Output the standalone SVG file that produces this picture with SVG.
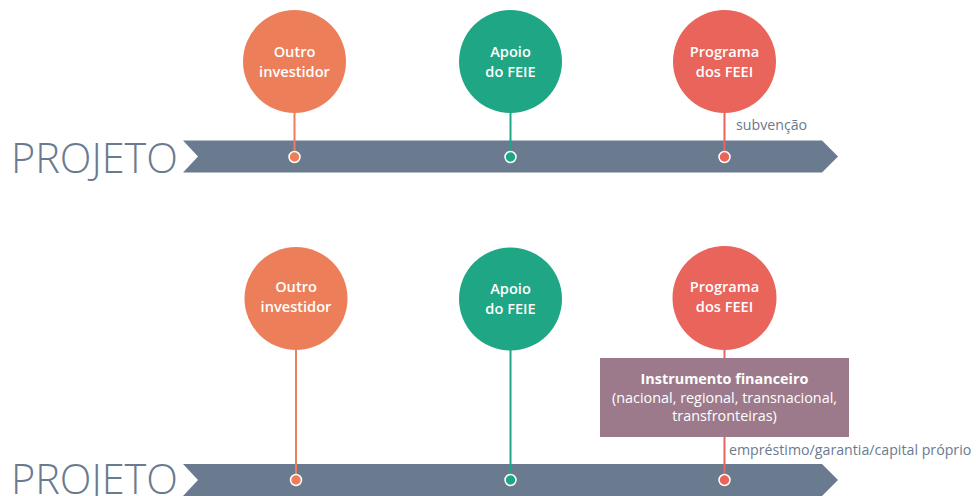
<svg xmlns="http://www.w3.org/2000/svg" width="976" height="496" viewBox="0 0 976 496">
<style>
.bar{fill:#6a7a8f}
.proj{font-family:"Open Sans","Liberation Sans",sans-serif;font-weight:300;font-size:42px;fill:#6a7a8f}
.ct{font-family:"Open Sans","Liberation Sans",sans-serif;font-weight:600;font-size:14.6px;fill:#ffffff;text-anchor:middle}
.lbl{font-family:"Open Sans","Liberation Sans",sans-serif;font-size:14.2px;fill:#6a7a8f}
.bt{font-family:"Open Sans","Liberation Sans",sans-serif;font-size:14.4px;fill:#ffffff;text-anchor:middle}
.o{fill:#ec7f59}.g{fill:#1fa685}.r{fill:#e9645b}
.lo{stroke:#ec7f59;stroke-width:2}.lg{stroke:#1fa685;stroke-width:2}.lr{stroke:#e9645b;stroke-width:2}
.dot{stroke:#ffffff;stroke-width:1.5}
</style>
<g id="bar1">
<polygon class="bar" points="183,140.5 822,140.5 838,156.5 822,172.5 183,172.5 198,156.5"/>
<text class="proj" x="11" y="173" textLength="167" lengthAdjust="spacingAndGlyphs">PROJETO</text>
</g>
<g id="bar2">
<polygon class="bar" points="183,464 822,464 838,480 822,496 183,496 198,480"/>
<text class="proj" x="11" y="494" textLength="167" lengthAdjust="spacingAndGlyphs">PROJETO</text>
</g>
<g id="connectors">
<line class="lo" x1="294.5" y1="110" x2="294.5" y2="157"/>
<line class="lg" x1="510.5" y1="110" x2="510.5" y2="157"/>
<line class="lr" x1="724.5" y1="110" x2="724.5" y2="157"/>
<line class="lo" x1="296" y1="348" x2="296" y2="480"/>
<line class="lg" x1="510.5" y1="348" x2="510.5" y2="480"/>
<line class="lr" x1="724.5" y1="348" x2="724.5" y2="480"/>
</g>
<g id="outro1"><circle class="o" cx="294.5" cy="61.5" r="51.5"/><text class="ct" x="294.5" y="57">Outro</text><text class="ct" x="294.5" y="77">investidor</text><circle class="o dot" cx="294.5" cy="157" r="5.5"/></g>
<g id="apoio1"><circle class="g" cx="510.5" cy="61.5" r="51.5"/><text class="ct" x="510.5" y="57">Apoio</text><text class="ct" x="510.5" y="77">do FEIE</text><circle class="g dot" cx="510.5" cy="157" r="5.5"/></g>
<g id="programa1"><circle class="r" cx="724.5" cy="61.5" r="51.5"/><text class="ct" x="724.5" y="57">Programa</text><text class="ct" x="724.5" y="77">dos FEEI</text><circle class="r dot" cx="724.5" cy="157" r="5.5"/></g>
<g id="subvencao"><text class="lbl" x="736" y="130">subvenção</text></g>
<g id="outro2"><circle class="o" cx="296" cy="298.5" r="51.5"/><text class="ct" x="296" y="292">Outro</text><text class="ct" x="296" y="312">investidor</text><circle class="o dot" cx="296" cy="480" r="5.5"/></g>
<g id="apoio2"><circle class="g" cx="510.5" cy="299" r="51.5"/><text class="ct" x="510.5" y="294">Apoio</text><text class="ct" x="510.5" y="314">do FEIE</text><circle class="g dot" cx="510.5" cy="480" r="5.5"/></g>
<g id="programa2"><circle class="r" cx="724.5" cy="298" r="52"/><text class="ct" x="724.5" y="292">Programa</text><text class="ct" x="724.5" y="312">dos FEEI</text><circle class="r dot" cx="724.5" cy="480" r="5.5"/></g>
<g id="instrumento">
<rect x="600" y="358" width="249" height="79" fill="#9c7a8c"/>
<text class="bt" x="724.5" y="384" font-weight="700">Instrumento financeiro</text>
<text class="bt" x="724.5" y="403">(nacional, regional, transnacional,</text>
<text class="bt" x="724.5" y="421">transfronteiras)</text>
</g>
<g id="emprestimo"><text class="lbl" x="729" y="455">empréstimo/garantia/capital próprio</text></g>
</svg>
